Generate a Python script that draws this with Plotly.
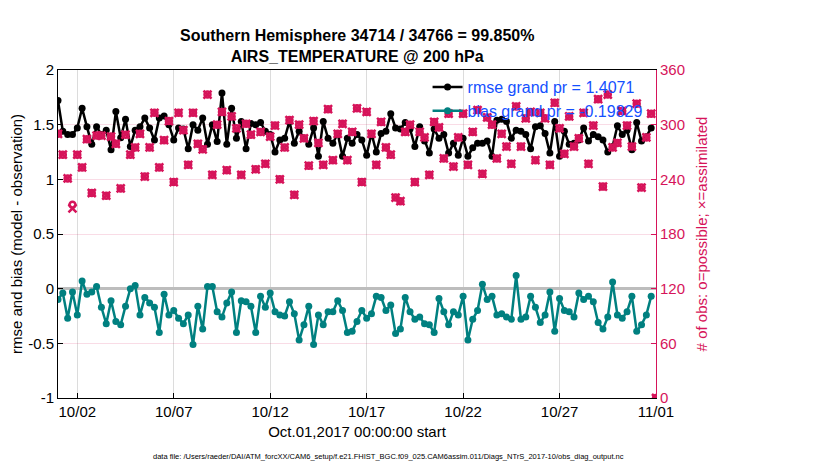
import numpy as np
import pandas as pd
import plotly.graph_objects as go

# 6-hourly bins, Oct 01 2017 00Z onward
t_start = "2017-10-01 00:00"
n_bins = 124

rmse = [1.72, 1.44, 1.41, 1.41, 1.47, 1.65, 1.48, 1.32, 1.48, 1.41, 1.45, 1.27, 1.62, 1.38, 1.55, 1.30,
        1.45, 1.48, 1.56, 1.47, 1.36, 1.56, 1.58, 1.50, 1.36, 1.47, 1.46, 1.28, 1.50, 1.45, 1.56, 1.32,
        1.50, 1.345, 1.79, 1.32, 1.65, 1.375, 1.53, 1.28, 1.51, 1.50, 1.52, 1.44, 1.41, 1.25, 1.36, 1.375,
        1.53, 1.33, 1.44, 1.375, 1.32, 1.47, 1.21, 1.53, 1.375, 1.33, 1.42, 1.21, 1.375, 1.33, 1.41,
        1.36, 1.22, 1.42, 1.25, 1.42, 1.44, 1.60, 1.47, 1.46, 1.52, 1.46, 1.30, 1.48, 1.35, 1.24, 1.46,
        1.375, 1.41, 1.24, 1.33, 1.22, 1.375, 1.21, 1.29, 1.33, 1.33, 1.35, 1.21, 1.54, 1.55, 1.53,
        1.375, 1.45, 1.44, 1.41, 1.28, 1.48, 1.49, 1.42, 1.24, 1.53, 1.21, 1.44, 1.32, 1.33, 1.36, 1.47,
        1.35, 1.41, 1.39, 1.36, 1.25, 1.30, 1.49, 1.41, 1.45, 1.27, 1.52, 1.35, 1.39, 1.47]

bias = [-0.10, -0.04, -0.27, -0.03, -0.24, 0.07, -0.05, -0.03, 0.02, -0.17, -0.32, -0.11, -0.30, -0.33, -0.16, 0.00,
        0.03, -0.24, -0.08, -0.13, -0.17, -0.40, -0.05, -0.24, -0.20, -0.27, -0.32, -0.24, -0.51, -0.16, -0.37, 0.02,
        0.02, -0.21, -0.26, -0.13, -0.03, -0.40, -0.11, -0.12, -0.16, -0.40, -0.07, -0.17, -0.04, -0.21, -0.24, -0.25,
        -0.12, -0.23, -0.47, -0.33, -0.16, -0.51, -0.24, -0.33, -0.21, -0.21, -0.11, -0.20, -0.40, -0.39, -0.30,
        -0.20, -0.27, -0.23, -0.07, -0.08, -0.20, -0.15, -0.41, -0.37, -0.08, -0.21, -0.28, -0.26, -0.32, -0.33,
        -0.40, -0.09, -0.21, -0.33, -0.21, -0.24, -0.07, -0.47, -0.28, -0.20, 0.04, -0.10, -0.07, -0.24, -0.23,
        -0.26, -0.28, 0.12, -0.28, -0.26, -0.07, -0.17, -0.31, -0.24, -0.03, -0.39, -0.09, -0.20, -0.21, -0.26, -0.04,
        -0.10, -0.07, -0.12, -0.31, -0.37, -0.26, 0.06, -0.24, -0.27, -0.21, -0.07, -0.39, -0.33, -0.24, -0.07]

# last bin (11/01 00Z) is empty
obs_used = [290, 267, 241, 208, 267, 253, 284, 225, 288, 288, 222, 287, 279, 230, 289, 267,
            275, 290, 243, 275, 313, 253, 283, 304, 237, 313, 294, 256, 313, 279, 273, 333,
            245, 300, 314, 250, 309, 296, 245, 301, 289, 251, 292, 257, 287, 299, 240, 275,
            305, 223, 300, 285, 255, 304, 280, 256, 317, 261, 290, 301, 261, 292, 318,
            237, 314, 290, 256, 303, 275, 267, 220, 216, 292, 300, 237, 292, 286, 245, 303,
            297, 263, 312, 254, 286, 312, 256, 292, 316, 246, 308, 300, 263, 290,
            276, 257, 320, 276, 307, 314, 261, 313, 307, 256, 324, 296, 268, 309, 276, 285,
            313, 257, 299, 328, 232, 333, 275, 280, 315, 299, 276, 323, 231, 286, 312, 0]
obs_possible = [290, 267, 241, 212, 267, 253, 284, 225, 288, 288, 222, 287, 279, 230, 289, 267,
                275, 290, 243, 275, 313, 253, 283, 304, 237, 313, 294, 256, 313, 279, 273, 333,
                245, 300, 314, 250, 309, 296, 245, 301, 289, 251, 292, 257, 287, 299, 240, 275,
                305, 223, 300, 285, 255, 304, 280, 256, 317, 261, 290, 301, 261, 292, 318,
                237, 314, 290, 256, 303, 275, 267, 220, 216, 292, 300, 237, 292, 286, 245, 303,
                297, 263, 312, 254, 286, 312, 256, 292, 316, 246, 308, 300, 263, 290,
                276, 257, 320, 276, 307, 314, 261, 313, 307, 256, 324, 296, 268, 309, 276, 285,
                313, 257, 299, 328, 232, 333, 275, 280, 315, 299, 276, 323, 231, 286, 312, 0]

tick_dates = ["2017-10-02", "2017-10-07", "2017-10-12", "2017-10-17", "2017-10-22", "2017-10-27", "2017-11-01"]
tick_text = ["10/02", "10/07", "10/12", "10/17", "10/22", "10/27", "11/01"]

times = pd.date_range(t_start, periods=n_bins + 1, freq="6h")

crimson = "rgb(214,20,90)"
teal = "rgb(0,128,128)"
font = "Liberation Sans, Arial, Helvetica, sans-serif"

fig = go.Figure()

fig.add_trace(go.Scatter(x=times, y=obs_possible, yaxis="y2", mode="markers", showlegend=False,
                         marker=dict(symbol="circle-open", size=6, color=crimson, line=dict(width=2.5, color=crimson))))
fig.add_trace(go.Scatter(x=times, y=obs_used, yaxis="y2", mode="markers", showlegend=False,
                         marker=dict(symbol="x-thin-open", size=8, color=crimson, line=dict(width=2.5, color=crimson))))

fig.add_trace(go.Scatter(x=times[:n_bins], y=rmse, mode="lines+markers", name="rmse grand pr = 1.4071",
                         line=dict(color="black", width=2.5), marker=dict(size=7, color="black")))
fig.add_trace(go.Scatter(x=times[:n_bins], y=bias, mode="lines+markers", name="bias grand pr = -0.19829",
                         line=dict(color=teal, width=2.5), marker=dict(size=7, color=teal)))

# page body adds 8px, so margins are offset by that
fig.update_layout(
    width=830, height=470,
    margin=dict(l=50, r=182, t=62, b=80, autoexpand=False),
    paper_bgcolor="white", plot_bgcolor="white",
    font=dict(family=font, size=15, color="black"),
    showlegend=True,
    legend=dict(x=0.618, y=1.0, xanchor="left", yanchor="top", bgcolor="rgba(0,0,0,0)",
                font=dict(color="#1450ff", size=16), tracegroupgap=0, itemwidth=30),
    xaxis=dict(range=[times[0], times[-1]], tickvals=pd.to_datetime(tick_dates), ticktext=tick_text,
               automargin=False, tickfont=dict(size=15),
               showgrid=True, gridcolor="#dcdcdc", gridwidth=1,
               showline=True, linecolor="black", linewidth=1, mirror=True,
               ticks="inside", ticklen=5, tickcolor="black", zeroline=False,
               title=dict(text="Oct.01,2017 00:00:00 start", font=dict(size=15), standoff=7)),
    yaxis=dict(range=[-1, 2], tickvals=[-1, -0.5, 0, 0.5, 1, 1.5, 2],
               ticktext=["-1", "-0.5", "0", "0.5", "1", "1.5", "2"],
               automargin=False, tickfont=dict(size=15),
               showgrid=False, zeroline=True, zerolinecolor="#bdbdbd", zerolinewidth=2.5,
               showline=True, linecolor="black", linewidth=1,
               ticks="inside", ticklen=5, tickcolor="black",
               title=dict(text="rmse and bias (model - observation)", font=dict(size=15), standoff=4)),
    yaxis2=dict(range=[0, 360], tickvals=[0, 60, 120, 180, 240, 300, 360], overlaying="y", side="right",
                automargin=False,
                showgrid=True, gridcolor="rgba(214,20,90,0.15)", zeroline=False,
                showline=True, linecolor=crimson, linewidth=1,
                ticks="inside", ticklen=5, tickcolor=crimson, tickfont=dict(color=crimson, size=15),
                title=dict(text="# of obs: o=possible; \u00d7=assimilated", font=dict(color=crimson, size=15),
                           standoff=12)),
)

fig.add_annotation(text="<b>Southern Hemisphere 34714 / 34766 = 99.850%</b><br><b>AIRS_TEMPERATURE @ 200 hPa</b>",
                   xref="paper", yref="paper", x=0.5, y=1.0, yshift=3, xanchor="center", yanchor="bottom",
                   showarrow=False, font=dict(size=16, color="black"))
fig.add_annotation(text="data file: /Users/raeder/DAI/ATM_forcXX/CAM6_setup/f.e21.FHIST_BGC.f09_025.CAM6assim.011/Diags_NTrS_2017-10/obs_diag_output.nc",
                   xref="paper", yref="paper", x=(388 - 58) / 598, y=0, yshift=-58, xanchor="center", yanchor="middle",
                   showarrow=False, font=dict(size=7.5, color="black"))

fig.write_html("out.html")
